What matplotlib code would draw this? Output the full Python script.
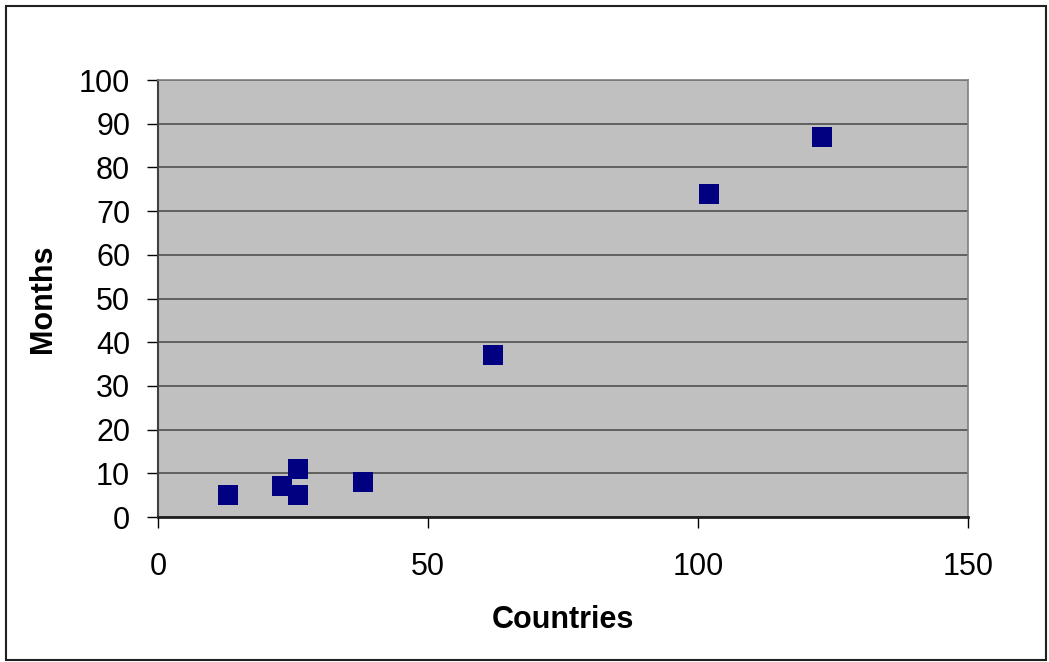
import matplotlib.pyplot as plt
from matplotlib.patches import Rectangle

plt.rcParams['font.family'] = ['Liberation Sans', 'DejaVu Sans']

countries = [13, 23, 26, 26, 38, 62, 102, 123]
months = [5, 7, 11, 5, 8, 37, 74, 87]

fig = plt.figure(figsize=(10.49, 6.62), dpi=100)
ax = fig.add_axes([0.1506, 0.219, 0.7722, 0.660])
ax.set_facecolor('#C0C0C0')

ax.scatter(countries, months, marker='s', s=14.3**2, color='#000080', zorder=3, linewidths=0)

ax.set_xlim(0, 150)
ax.set_ylim(0, 100)
ax.set_xticks([0, 50, 100, 150])
ax.set_yticks(range(0, 101, 10))
ax.yaxis.grid(True, color='#505050', linewidth=1.2)
ax.set_axisbelow(True)

for side in ['top', 'right']:
    ax.spines[side].set_color('#808080')
    ax.spines[side].set_linewidth(1.2)
ax.spines['left'].set_color('#404040')
ax.spines['bottom'].set_color('#202020')
ax.spines['left'].set_linewidth(1.5)
ax.spines['bottom'].set_linewidth(2)

ax.tick_params(axis='both', labelsize=22, length=8, width=1, direction='out', color='black')
ax.tick_params(axis='x', pad=17)
ax.tick_params(axis='y', pad=12)

ax.set_xlabel('Countries', fontsize=22, fontweight='bold', labelpad=17)
ax.set_ylabel('Months', fontsize=22, fontweight='bold', labelpad=15)

fig.patches.append(Rectangle((0.006, 0.003), 0.991, 0.988, transform=fig.transFigure,
                             fill=False, edgecolor='#202020', linewidth=1.5))

fig.savefig('out.png', dpi=100)
